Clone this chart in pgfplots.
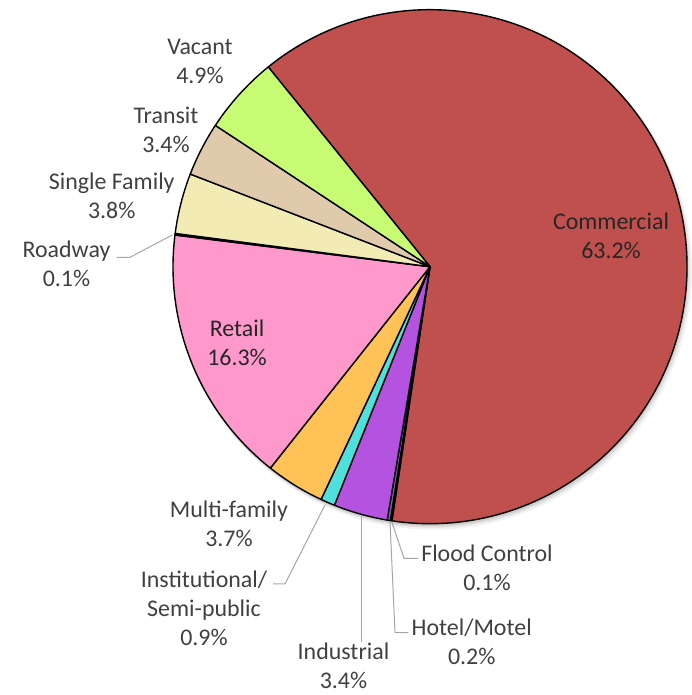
\documentclass[border=0pt]{standalone}
\usepackage{pgfplots}
\pgfplotsset{compat=1.18}
\usepackage{pgfplotstable}
\usepackage{fontspec}
\setmainfont{Carlito}
\definecolor{cCom}{HTML}{C0504D}
\definecolor{cFlood}{HTML}{E86CC4}
\definecolor{cHotel}{HTML}{8064A2}
\definecolor{cInd}{HTML}{B453E0}
\definecolor{cInst}{HTML}{4FE0DC}
\definecolor{cMulti}{HTML}{FFC257}
\definecolor{cRetail}{HTML}{FF99CC}
\definecolor{cRoad}{HTML}{808080}
\definecolor{cSingle}{HTML}{F2EBB3}
\definecolor{cTransit}{HTML}{DFCAAC}
\definecolor{cVacant}{HTML}{C7FB73}
\definecolor{labelgrey}{HTML}{404040}
\definecolor{leadergrey}{HTML}{A6A6A6}

\pgfplotstableread[col sep=comma]{
name,value,col
Commercial,63.2,cCom
Flood Control,0.1,cFlood
Hotel/Motel,0.2,cHotel
Industrial,3.4,cInd
Institutional/Semi-public,0.9,cInst
Multi-family,3.7,cMulti
Retail,16.3,cRetail
Roadway,0.1,cRoad
Single Family,3.8,cSingle
Transit,3.4,cTransit
Vacant,4.9,cVacant
}\piedata

\begin{document}
\begin{tikzpicture}
\begin{axis}[x=0.5bp,y=0.5bp,xmin=0,xmax=692,ymin=0,ymax=695,
  hide axis,clip=false]
\coordinate (bbbl) at (rel axis cs:0,0);
\coordinate (bbtr) at (rel axis cs:1,1);
% soft shadow
\fill[black,opacity=0.05] (axis cs:433,424.3) circle[radius=129.5bp];
\fill[black,opacity=0.07] (axis cs:432,425.3) circle[radius=129bp];
\fill[black,opacity=0.09] (axis cs:431,426.3) circle[radius=128.7bp];
% slices
\def\cumang{129}
\pgfplotsforeachungrouped \i in {0,...,10}{%
  \pgfplotstablegetelem{\i}{value}\of\piedata
  \let\sliceval\pgfplotsretval
  \pgfplotstablegetelem{\i}{col}\of\piedata
  \let\slicecol\pgfplotsretval
  \pgfmathsetmacro\endang{\cumang-3.6*\sliceval}%
  \edef\temp{\noexpand\filldraw[fill=\slicecol,draw=black,line width=0.7bp,line join=round]
    (axis cs:430,428.3) -- ++(\cumang:128.5bp)
    arc[start angle=\cumang,end angle=\endang,radius=128.5bp] -- cycle;}%
  \temp
  \global\let\cumang\endang
}
% leader lines
\draw[leadergrey,line width=0.5bp] (axis cs:116.7,437.7) -- (axis cs:130,437.7) -- (axis cs:172.3,460);
\draw[leadergrey,line width=0.5bp] (axis cs:273,111) -- (axis cs:285,111) -- (axis cs:325,190);
\draw[leadergrey,line width=0.5bp] (axis cs:361.7,180) -- (axis cs:361.7,53.3);
\draw[leadergrey,line width=0.5bp] (axis cs:391.7,173.3) -- (axis cs:404,136.7) -- (axis cs:418.3,136.7);
\draw[leadergrey,line width=0.5bp] (axis cs:390,173.3) -- (axis cs:395,62.3) -- (axis cs:408.3,62.3);
% labels
\tikzset{lbl/.style={align=center,text=labelgrey,inner sep=0pt,font=\fontsize{12}{14.5}\selectfont}}
\node[lbl] at (axis cs:200,633.3) {Vacant\\4.9\%};
\node[lbl] at (axis cs:166,565) {Transit\\3.4\%};
\node[lbl] at (axis cs:111.7,499.5) {Single Family\\3.8\%};
\node[lbl] at (axis cs:66.5,431) {Roadway\\0.1\%};
\node[lbl,text=black!85] at (axis cs:611,459) {Commercial\\63.2\%};
\node[lbl,text=black!85] at (axis cs:237,352.5) {Retail\\16.3\%};
\node[lbl] at (axis cs:229,171) {Multi-family\\3.7\%};
\node[lbl] at (axis cs:204,87) {Institutional/\\Semi-public\\0.9\%};
\node[lbl] at (axis cs:343.5,29) {Industrial\\3.4\%};
\node[lbl] at (axis cs:487,127) {Flood Control\\0.1\%};
\node[lbl] at (axis cs:471.7,53.3) {Hotel/Motel\\0.2\%};
\end{axis}
\pgfresetboundingbox
\useasboundingbox (bbbl) rectangle (bbtr);
\end{tikzpicture}
\end{document}
